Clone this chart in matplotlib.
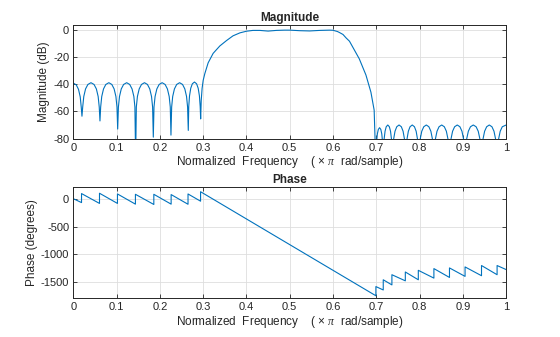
import matplotlib
matplotlib.use("Agg")
import matplotlib.pyplot as plt

# ---------------------------------------------------------------------------
# Values (frequency in units of pi rad/sample)
# ---------------------------------------------------------------------------
# lower stopband, 0 .. 0.3
low_freq = [
    0.000, 0.0068, 0.012, 0.016, 0.0184, 0.020,
    0.0217, 0.0242, 0.0283, 0.0337, 0.0408, 0.0479, 0.0533, 0.0574, 0.0599, 0.0616,
    0.0632, 0.0657, 0.0698, 0.0751, 0.0821, 0.0890, 0.0943, 0.0984, 0.1009, 0.1025,
    0.1042, 0.1067, 0.1108, 0.1162, 0.1233, 0.1303, 0.1357, 0.1399, 0.1423, 0.1440,
    0.1456, 0.1481, 0.1522, 0.1575, 0.1644, 0.1713, 0.1766, 0.1807, 0.1832, 0.1848,
    0.1864, 0.1889, 0.1930, 0.1983, 0.2052, 0.2121, 0.2174, 0.2215, 0.2240, 0.2256,
    0.2272, 0.2296, 0.2336, 0.2388, 0.2456, 0.2524, 0.2576, 0.2616, 0.2640, 0.2656,
    0.2667, 0.2685, 0.2713, 0.2750, 0.2799, 0.2848, 0.2885, 0.2913, 0.2931, 0.2942,
]
low_db = [
    -39.0, -40.3, -43.6, -49.2, -57.0, -63.5,
    -56.7, -48.9, -43.3, -40.0, -38.7, -40.0, -43.3, -48.9, -56.7, -67.0,
    -56.7, -48.9, -43.3, -40.0, -38.7, -40.0, -43.3, -48.9, -56.7, -73.0,
    -56.7, -48.9, -43.3, -40.0, -38.7, -40.0, -43.3, -48.9, -56.7, -95.0,
    -56.7, -48.9, -43.3, -40.0, -38.7, -40.0, -43.3, -48.9, -56.7, -79.0,
    -56.7, -48.9, -43.3, -40.0, -38.7, -40.0, -43.3, -48.9, -56.7, -77.5,
    -56.7, -48.9, -43.3, -40.0, -38.7, -40.0, -43.3, -48.9, -56.7, -74.0,
    -56.2, -48.4, -42.8, -39.5, -38.2, -39.5, -42.8, -48.4, -56.2, -65.5,
]

# transition bands and passband
pass_freq = [
    0.2955, 0.2975, 0.300, 0.3038, 0.3115, 0.323, 0.3385, 0.354, 0.369, 0.385,
    0.400, 0.415, 0.431, 0.450, 0.469, 0.488, 0.500, 0.523, 0.546, 0.569,
    0.592, 0.600, 0.610, 0.6145, 0.623, 0.630, 0.638, 0.645, 0.652, 0.6606,
    0.676, 0.6875, 0.695, 0.699,
]
pass_db = [
    -52.0, -43.0, -37.0, -32.0, -24.0, -17.0, -11.5, -7.5, -4.0, -1.8,
    -0.6, 0.0, 0.0, -0.5, 0.0, 0.2, 0.2, -0.2, -0.4, 0.0,
    0.2, 0.1, -0.8, -1.5, -3.0, -5.5, -8.0, -12.0, -16.0, -21.0,
    -33.0, -45.7, -59.0, -100.0,
]

# upper stopband, 0.7 .. 1
high_freq = [
    0.7007, 0.7024, 0.7046, 0.7075, 0.7104, 0.7126, 0.7143, 0.716,
    0.7181, 0.7202, 0.7229, 0.7265, 0.7301, 0.7328, 0.7349, 0.737,
    0.7401, 0.7432, 0.7472, 0.7525, 0.7578, 0.7618, 0.7649, 0.768,
    0.7710, 0.7740, 0.7779, 0.7830, 0.7881, 0.7920, 0.7950, 0.798,
    0.8015, 0.8050, 0.8096, 0.8155, 0.8214, 0.8260, 0.8295, 0.833,
    0.8366, 0.8402, 0.8449, 0.8510, 0.8571, 0.8618, 0.8654, 0.869,
    0.8726, 0.8762, 0.8809, 0.8870, 0.8931, 0.8978, 0.9014, 0.905,
    0.9088, 0.9126, 0.9175, 0.9240, 0.9305, 0.9354, 0.9392, 0.943,
    0.9466, 0.9502, 0.9549, 0.9610, 0.9671, 0.9718, 0.9754, 0.979,
    0.9826, 0.9862, 0.9910, 1.000,
]
high_db = [
    -82.2, -76.6, -73.3, -72.0, -73.3, -76.6, -82.2, -100.0,
    -80.2, -74.6, -71.3, -70.0, -71.3, -74.6, -80.2, -100.0,
    -80.2, -74.6, -71.3, -70.0, -71.3, -74.6, -80.2, -100.0,
    -80.2, -74.6, -71.3, -70.0, -71.3, -74.6, -80.2, -100.0,
    -80.2, -74.6, -71.3, -70.0, -71.3, -74.6, -80.2, -100.0,
    -80.2, -74.6, -71.3, -70.0, -71.3, -74.6, -80.2, -100.0,
    -80.2, -74.6, -71.3, -70.0, -71.3, -74.6, -80.2, -100.0,
    -80.2, -74.6, -71.3, -70.0, -71.3, -74.6, -80.2, -100.0,
    -80.2, -74.6, -71.3, -70.0, -71.3, -74.6, -80.2, -100.0,
    -80.2, -74.6, -71.3, -70.0,
]

# phase: pairs at the same frequency are the +180 deg jumps at the nulls
phase_freq = [
    0.000, 0.019, 0.019, 0.0605, 0.0605, 0.102, 0.102, 0.1435, 0.1435,
    0.186, 0.186, 0.226, 0.226, 0.265, 0.265, 0.294, 0.294,
    0.699, 0.699, 0.716, 0.716, 0.736, 0.736, 0.767, 0.767, 0.797, 0.797,
    0.833, 0.833, 0.869, 0.869, 0.905, 0.905, 0.943, 0.943, 0.979, 0.979,
    1.000,
]
phase_deg = [
    0, -70, 92, -85, 98, -85, 85, -98, 79,
    -104, 79, -98, 74, -100, 85, -45, 125,
    -1744, -1579, -1640, -1457, -1549, -1366, -1476, -1317, -1457, -1287,
    -1427, -1256, -1415, -1244, -1396, -1226, -1384, -1201, -1366, -1201,
    -1274,
]

freq_ticks = [0, 0.1, 0.2, 0.3, 0.4, 0.5, 0.6, 0.7, 0.8, 0.9, 1]
freq_ticklabels = ["0", "0.1", "0.2", "0.3", "0.4", "0.5", "0.6", "0.7", "0.8", "0.9", "1"]
mag_ticks = [0, -20, -40, -60, -80]
phase_ticks = [0, -500, -1000, -1500]

mag_freq = low_freq + pass_freq + high_freq
mag_db = low_db + pass_db + high_db

# ---------------------------------------------------------------------------
# Style: MATLAB-like freqz look
# ---------------------------------------------------------------------------
plt.rcParams["font.family"] = ["Liberation Sans", "DejaVu Sans"]
plt.rcParams["axes.unicode_minus"] = False
plt.rcParams["mathtext.fontset"] = "custom"
plt.rcParams["mathtext.it"] = "Liberation Serif:italic"

LINE_COLOR = "#0072BD"
EDGE = "#262626"
xlabel = "Normalized  Frequency    ( \u00d7 $\\mathit{\\pi}$  rad/sample)"

fig = plt.figure(figsize=(5.6, 3.37), dpi=100)
ax1 = fig.add_axes([0.1309, 0.589, 0.773, 0.3368])
ax2 = fig.add_axes([0.1309, 0.1148, 0.773, 0.3303])


def style(ax):
    ax.set_xlim(0, 1)
    ax.set_xticks(freq_ticks)
    ax.set_xticklabels(freq_ticklabels)
    ax.grid(True, color="#dedede", linewidth=0.6)
    ax.set_axisbelow(True)
    ax.tick_params(direction="in", length=3, width=0.6, colors=EDGE,
                   labelsize=8, top=True, right=True, pad=3)
    for sp in ax.spines.values():
        sp.set_color(EDGE)
        sp.set_linewidth(0.7)
    ax.set_xlabel(xlabel, fontsize=8.5, color=EDGE, labelpad=1)


ax1.plot(mag_freq, mag_db, color=LINE_COLOR, linewidth=0.8)
ax1.set_ylim(-80, 4)
ax1.set_yticks(mag_ticks)
style(ax1)
ax1.set_ylabel("Magnitude (dB)", fontsize=8.5, color=EDGE, labelpad=2)
ax1.set_title("Magnitude", fontsize=8.5, fontweight="bold", color=EDGE, pad=3)

ax2.plot(phase_freq, phase_deg, color=LINE_COLOR, linewidth=0.8)
ax2.set_ylim(-1790, 210)
ax2.set_yticks(phase_ticks)
style(ax2)
ax2.set_ylabel("Phase (degrees)", fontsize=8.5, color=EDGE, labelpad=2)
ax2.set_title("Phase", fontsize=8.5, fontweight="bold", color=EDGE, pad=3)

fig.savefig("out.png", dpi=100)
